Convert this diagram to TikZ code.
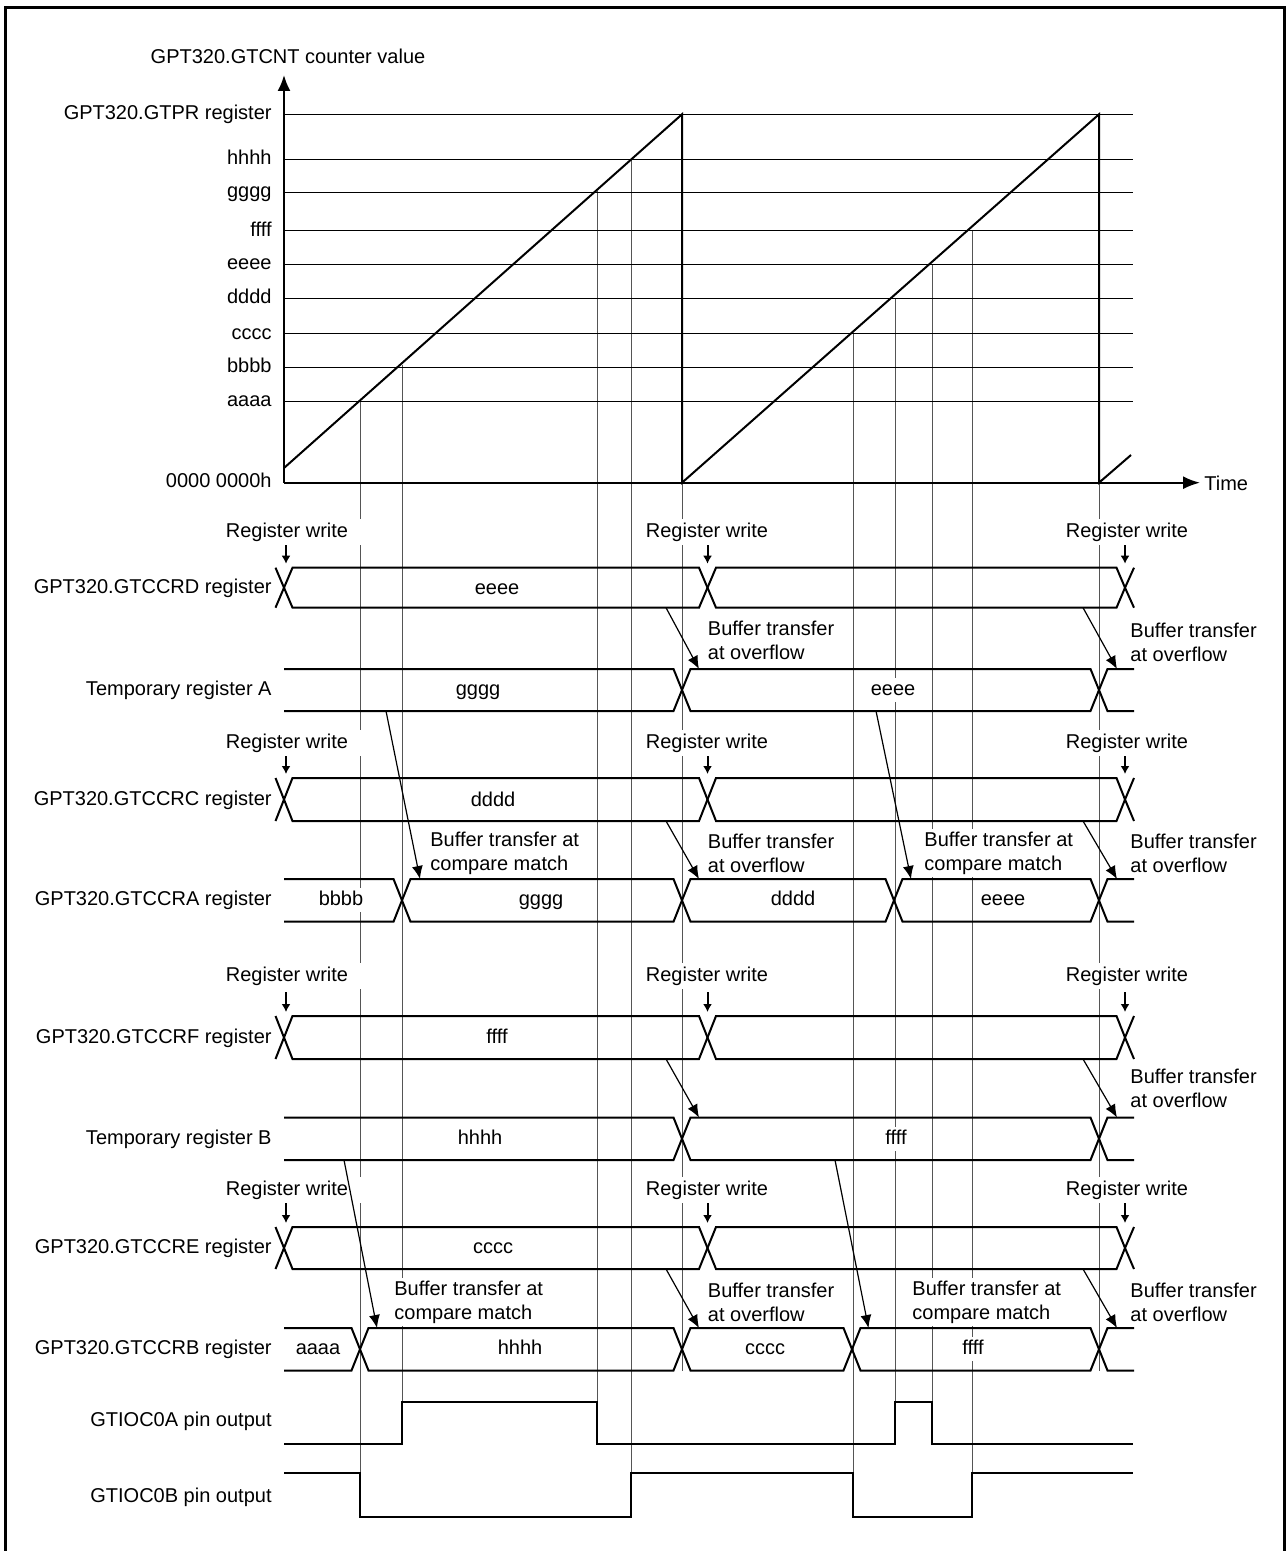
\documentclass[tikz,border=0pt]{standalone}
\usepackage{fontspec}
\setmainfont{Liberation Sans}
\usepackage{xcolor}
\usepackage{tikz}
\usetikzlibrary{arrows.meta,calc}
\definecolor{guidegray}{RGB}{85,85,85}
% one bus segment between two crossings
\newcommand{\bseg}[4]{\draw[sig] (#1,{(#3+#4)/2}) -- (#1+8.5,#3) -- (#2-8.5,#3) -- (#2,{(#3+#4)/2}) -- (#2-8.5,#4) -- (#1+8.5,#4) -- cycle;}
% plain start, crossing at the end
\newcommand{\bopen}[4]{\draw[sig] (#1,#3) -- (#2-8.5,#3) -- (#2,{(#3+#4)/2}) -- (#2-8.5,#4) -- (#1,#4);}
% crossing at the start, plain end
\newcommand{\bclose}[4]{\draw[sig] (#2,#3) -- (#1+8.5,#3) -- (#1,{(#3+#4)/2}) -- (#1+8.5,#4) -- (#2,#4);}
% half crossing
\newcommand{\bstub}[4]{\draw[sig] (#1+#2,#3) -- (#1,{(#3+#4)/2}) -- (#1+#2,#4);}
\newcommand{\regrow}[2]{\bstub{284}{-8.5}{#1}{#2}\bseg{284}{707.5}{#1}{#2}\bseg{707.5}{1125}{#1}{#2}\bstub{1125}{9}{#1}{#2}}
\newcommand{\tmprow}[2]{\bopen{284}{682}{#1}{#2}\bseg{682}{1099}{#1}{#2}\bclose{1099}{1134}{#1}{#2}}
% register write marks: #1 name, #2 row top, #3 text y
\newcommand{\regwrite}[3]{%
  \foreach \x in {286,707.5,1125}{\draw[wr] (\x,#2-24) -- (\x,#2-4);}
  \foreach \x/\k in {287/a,707/b,1127/c}{\node[wrlbl] (#1\k) at (\x,#3) {Register write};}}

\begin{document}
\begin{tikzpicture}[x=0.5pt,y=-0.5pt,
  sig/.style={line width=1pt},
  lvl/.style={line width=0.5pt},
  guide/.style={line width=0.5pt,guidegray},
  xfer/.style={line width=0.6pt,-{Latex[length=6.5pt,width=5.5pt]}},
  wr/.style={line width=1pt,-{Latex[length=4pt,width=4.5pt]}},
  lbl/.style={font=\fontsize{10}{12}\selectfont,inner sep=0pt,text height=7.3pt,text depth=2.1pt},
  val/.style={lbl,fill=white,inner sep=1.5pt},
  wrlbl/.style={lbl,fill=white,inner xsep=7pt,inner ysep=2pt},
  note/.style={font=\fontsize{10}{12}\selectfont,fill=white,align=left,anchor=west,inner xsep=3pt,inner ysep=1.5pt}]
\useasboundingbox (0,0) rectangle (1288,1551);
\draw[line width=1.6pt] (5.5,1560) -- (5.5,7.5) -- (1284.5,7.5) -- (1284.5,1560);

% guide lines from the compare matches
\foreach \x/\yt/\yb in {360/401/1516.5,402/365/1444,597/191/1444,631/159.3/1516.5,
    682/482.7/1370.5,853/334/1516.5,895/298.3/1444,932/264.3/1444,972/231/1516.5,1099/482.7/1370.5}
  \draw[guide] (\x,\yt) -- (\x,\yb);

% counter levels
\foreach \y/\t [count=\i] in {114.3/GPT320.GTPR register,159.3/hhhh,192.7/gggg,231/ffff,
    264.3/eeee,298.3/dddd,334/cccc,367.7/bbbb,401/aaaa}{
  \draw[lvl] (284,\y) -- (1133,\y);
  \node[lbl,anchor=east] (lv\i) at (272,\y) {\t};}
\node[lbl,anchor=east] (lv0) at (272,482.7) {0000 0000h};
\draw[sig,-{Latex[length=8pt,width=6.5pt]}] (284,482.7) -- (284,75);
\draw[sig,-{Latex[length=8.5pt,width=6.5pt]}] (284,482.7) -- (1200,482.7);
\node[lbl] (cnt) at (288,58) {GPT320.GTCNT counter value};
\node[lbl,anchor=west] (time) at (1204,485) {Time};
\draw[sig] (284,468) -- (682,114.3) -- (682,482.7) -- (1099,114.3) -- (1099,482.7) -- (1131,455);

% register rows
\regrow{567.7}{607.7}
\tmprow{669}{711}
\regrow{778}{821}
\bopen{284}{402}{879}{921.7}\bseg{402}{682}{879}{921.7}\bseg{682}{894}{879}{921.7}
\bseg{894}{1099}{879}{921.7}\bclose{1099}{1134}{879}{921.7}
\regrow{1016}{1059}
\tmprow{1117.5}{1160}
\regrow{1227}{1269}
\bopen{284}{360}{1328}{1370.5}\bseg{360}{682}{1328}{1370.5}\bseg{682}{852}{1328}{1370.5}
\bseg{852}{1099}{1328}{1370.5}\bclose{1099}{1134}{1328}{1370.5}

% pin outputs
\draw[sig] (284,1444) -- (402,1444) -- (402,1402) -- (597,1402) -- (597,1444) -- (895,1444)
  -- (895,1402) -- (932,1402) -- (932,1444) -- (1133,1444);
\draw[sig] (284,1473) -- (360,1473) -- (360,1516.5) -- (631,1516.5) -- (631,1473) -- (853,1473)
  -- (853,1516.5) -- (972,1516.5) -- (972,1473) -- (1133,1473);

% row names
\foreach \y/\t [count=\i] in {588/GPT320.GTCCRD register,690/Temporary register A,
    800/GPT320.GTCCRC register,900/GPT320.GTCCRA register,1038/GPT320.GTCCRF register,
    1139/Temporary register B,1248/GPT320.GTCCRE register,1349/GPT320.GTCCRB register,
    1421/GTIOC0A pin output,1497/GTIOC0B pin output}
  \node[lbl,anchor=east] (row\i) at (272,\y) {\t};

% values
\foreach \x/\y/\t [count=\i] in {497/589/eeee,478/690/gggg,893/690/eeee,493/801/dddd,
    341/900/bbbb,541/900/gggg,793/900/dddd,1003/900/eeee,497/1038/ffff,480/1139/hhhh,
    896/1139/ffff,493/1248/cccc,318/1349/aaaa,520/1349/hhhh,765/1349/cccc,973/1349/ffff}
  \node[val] (v\i) at (\x,\y) {\t};

\regwrite{wD}{567.7}{532}
\regwrite{wC}{778}{743}
\regwrite{wF}{1016}{976}
\regwrite{wE}{1227}{1190}

% buffer transfers
\node[note] (n1) at (701.5,640) {Buffer transfer\\at overflow};
\node[note] (n2) at (1124,642) {Buffer transfer\\at overflow};
\node[note] (n3) at (424,853) {Buffer transfer at\\compare match};
\node[note] (n4) at (701.5,853) {Buffer transfer\\at overflow};
\node[note] (n5) at (918,853) {Buffer transfer at\\compare match};
\node[note] (n6) at (1124,853) {Buffer transfer\\at overflow};
\node[note] (n7) at (1124,1088) {Buffer transfer\\at overflow};
\node[note] (n8) at (388,1302) {Buffer transfer at\\compare match};
\node[note] (n9) at (701.5,1302) {Buffer transfer\\at overflow};
\node[note] (n10) at (906,1302) {Buffer transfer at\\compare match};
\node[note] (n11) at (1124,1302) {Buffer transfer\\at overflow};

\draw[xfer] (666,607.7) -- (699,669);
\draw[xfer] (1083,607.7) -- (1117,669);
\draw[xfer] (386,711) -- (420,879);
\draw[xfer] (666,821) -- (699,879);
\draw[xfer] (876,711) -- (911,879);
\draw[xfer] (1083,821) -- (1117,879);
\draw[xfer] (666,1059) -- (699,1117.5);
\draw[xfer] (1083,1059) -- (1117,1117.5);
\draw[xfer] (344,1160) -- (377,1328);
\draw[xfer] (666,1269) -- (699,1328);
\draw[xfer] (835,1160) -- (868.5,1328);
\draw[xfer] (1083,1269) -- (1117,1328);
\end{tikzpicture}
\end{document}
